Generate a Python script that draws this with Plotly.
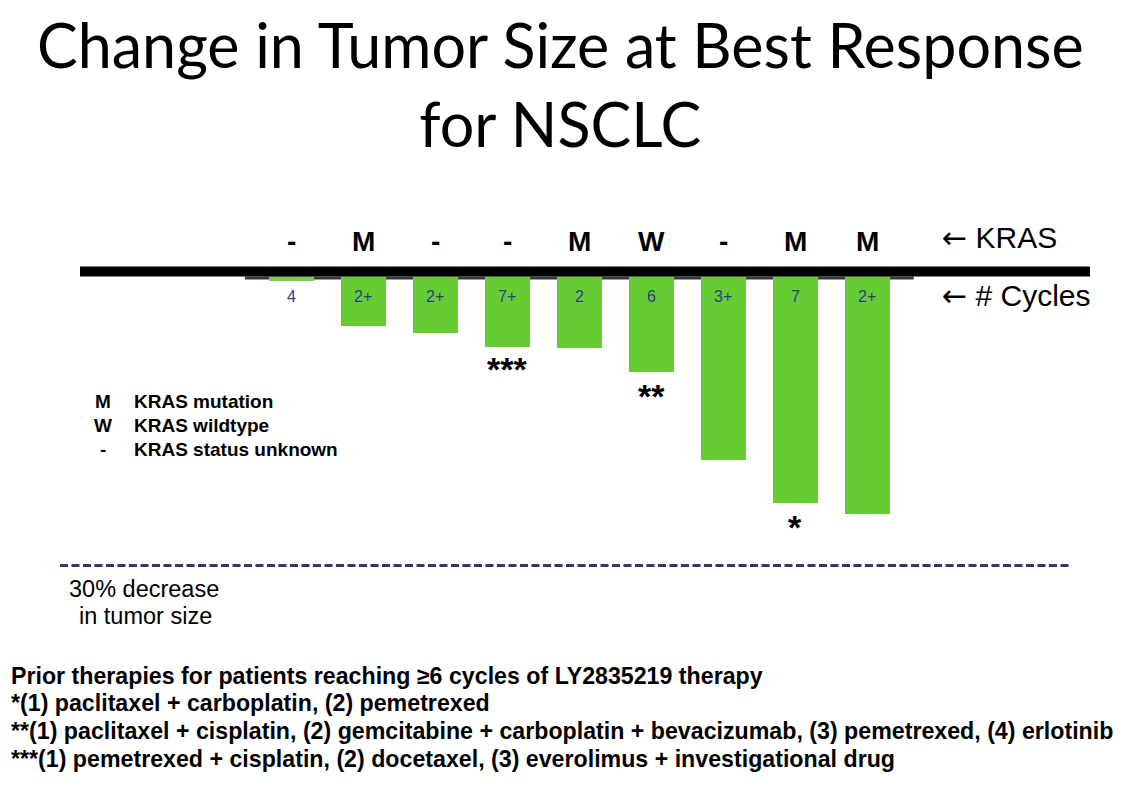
import plotly.graph_objects as go

# ---- data ----
patients = [1, 2, 3, 4, 5, 6, 7, 8, 9]
pct_change = [-0.5, -5.1, -5.9, -7.3, -7.4, -9.9, -19.1, -23.5, -24.7]
kras = ["-", "M", "-", "-", "M", "W", "-", "M", "M"]
cycles = ["4", "2+", "2+", "7+", "2", "6", "3+", "7", "2+"]
stars = ["", "", "", "***", "", "**", "", "*", ""]
threshold = -30

# page body has an 8px margin; work in reference-pixel coordinates and shift
OFF = 8
W, H = 1134 - 2 * OFF, 801 - 2 * OFF
PX_PER_UNIT = 9.633
Y0_PX = 276.5 - OFF
X0_PX, STEP_PX = 291 - OFF, 72.0

def xp(px):
    return (px - OFF) / W

def yp(py):
    return 1 - (py - OFF) / H

xs = list(range(len(patients)))
colors = ["#79cf4a"] + ["#66cc33"] * (len(patients) - 1)

fig = go.Figure()
fig.add_trace(go.Bar(
    x=xs, y=pct_change, width=0.625,
    marker=dict(color=colors, line=dict(width=0)),
    hoverinfo="skip", showlegend=False,
))

yr = [-(H - Y0_PX) / PX_PER_UNIT, Y0_PX / PX_PER_UNIT]
xr = [-X0_PX / STEP_PX, (W - X0_PX) / STEP_PX]

shapes = []
shapes.append(dict(type="rect", xref="x", yref="y", x0=-0.64, x1=8.65,
                   y0=-3 / PX_PER_UNIT, y1=0, fillcolor="#3a3a3a",
                   line=dict(width=0), layer="below"))
shapes.append(dict(type="rect", xref="paper", yref="y", x0=xp(80), x1=xp(1090),
                   y0=0, y1=10 / PX_PER_UNIT, fillcolor="black",
                   line=dict(width=0), layer="above"))
shapes.append(dict(type="line", xref="paper", yref="y", x0=xp(60), x1=xp(1070),
                   y0=threshold, y1=threshold,
                   line=dict(color="#2b3a6a", width=3, dash="8px,3.5px")))

ann = []
ann.append(dict(text="Change in Tumor Size at Best Response<br>for NSCLC",
                xref="paper", yref="paper", x=xp(560), y=yp(6),
                xanchor="center", yanchor="top", showarrow=False,
                font=dict(family="Lato", size=61, color="black")))
star_shift = {"***": -1, "**": -3, "*": -3}
for i in xs:
    ann.append(dict(text="<b>" + kras[i] + "</b>", x=i, y=(Y0_PX - 233) / PX_PER_UNIT,
                    xref="x", yref="y", showarrow=False, yanchor="middle",
                    font=dict(family="Liberation Sans", size=28, color="black")))
    ann.append(dict(text=cycles[i], x=i, y=(Y0_PX - 288) / PX_PER_UNIT,
                    xref="x", yref="y", showarrow=False, yanchor="middle",
                    font=dict(family="Liberation Sans", size=16, color="#2e3d8f")))
    if stars[i]:
        ann.append(dict(text="<b>" + stars[i] + "</b>", x=i, y=pct_change[i],
                        xref="x", yref="y", showarrow=False, yanchor="top",
                        yshift=star_shift[stars[i]],
                        font=dict(family="Liberation Sans", size=34, color="black")))

arrow = "<span style='font-family:DejaVu Sans'>\u2190</span>"
ann.append(dict(text=arrow + " KRAS", xref="paper", yref="paper", x=xp(940), y=yp(238),
                xanchor="left", yanchor="middle", showarrow=False,
                font=dict(family="Liberation Sans", size=30, color="black")))
ann.append(dict(text=arrow + " # Cycles", xref="paper", yref="paper", x=xp(940), y=yp(296),
                xanchor="left", yanchor="middle", showarrow=False,
                font=dict(family="Liberation Sans", size=30, color="black")))

legend_rows = [("M", "KRAS mutation", 401), ("W", "KRAS wildtype", 425),
               ("-", "KRAS status unknown", 449)]
for code, desc, py in legend_rows:
    ann.append(dict(text="<b>" + code + "</b>", xref="paper", yref="paper",
                    x=xp(103), y=yp(py), xanchor="center",
                    yanchor="middle", showarrow=False,
                    font=dict(family="Liberation Sans", size=19, color="black")))
    ann.append(dict(text="<b>" + desc + "</b>", xref="paper", yref="paper",
                    x=xp(132), y=yp(py), xanchor="left", yanchor="middle",
                    showarrow=False,
                    font=dict(family="Liberation Sans", size=19, color="black")))

ann.append(dict(text="30% decrease", xref="paper", yref="paper", x=xp(144), y=yp(589),
                xanchor="center", yanchor="middle", showarrow=False,
                font=dict(family="Liberation Sans", size=23.5, color="black")))
ann.append(dict(text="in tumor size", xref="paper", yref="paper", x=xp(145), y=yp(616),
                xanchor="center", yanchor="middle", showarrow=False,
                font=dict(family="Liberation Sans", size=23.5, color="black")))

notes = [
    ("Prior therapies for patients reaching \u22656 cycles of LY2835219 therapy", 676),
    ("*(1) paclitaxel + carboplatin, (2) pemetrexed", 703),
    ("**(1) paclitaxel + cisplatin, (2) gemcitabine + carboplatin + bevacizumab, (3) pemetrexed, (4) erlotinib", 731),
    ("***(1) pemetrexed + cisplatin, (2) docetaxel, (3) everolimus + investigational drug", 759),
]
for txt, py in notes:
    ann.append(dict(text="<b>" + txt + "</b>", xref="paper", yref="paper",
                    x=xp(9), y=yp(py), xanchor="left", yanchor="middle",
                    showarrow=False,
                    font=dict(family="Liberation Sans", size=23.2, color="black")))

fig.update_layout(
    width=W, height=H, margin=dict(l=0, r=0, t=0, b=0),
    paper_bgcolor="white", plot_bgcolor="white",
    xaxis=dict(range=xr, visible=False, fixedrange=True),
    yaxis=dict(range=yr, visible=False, fixedrange=True),
    shapes=shapes, annotations=ann, bargap=0,
)
fig.write_html("out.html")
